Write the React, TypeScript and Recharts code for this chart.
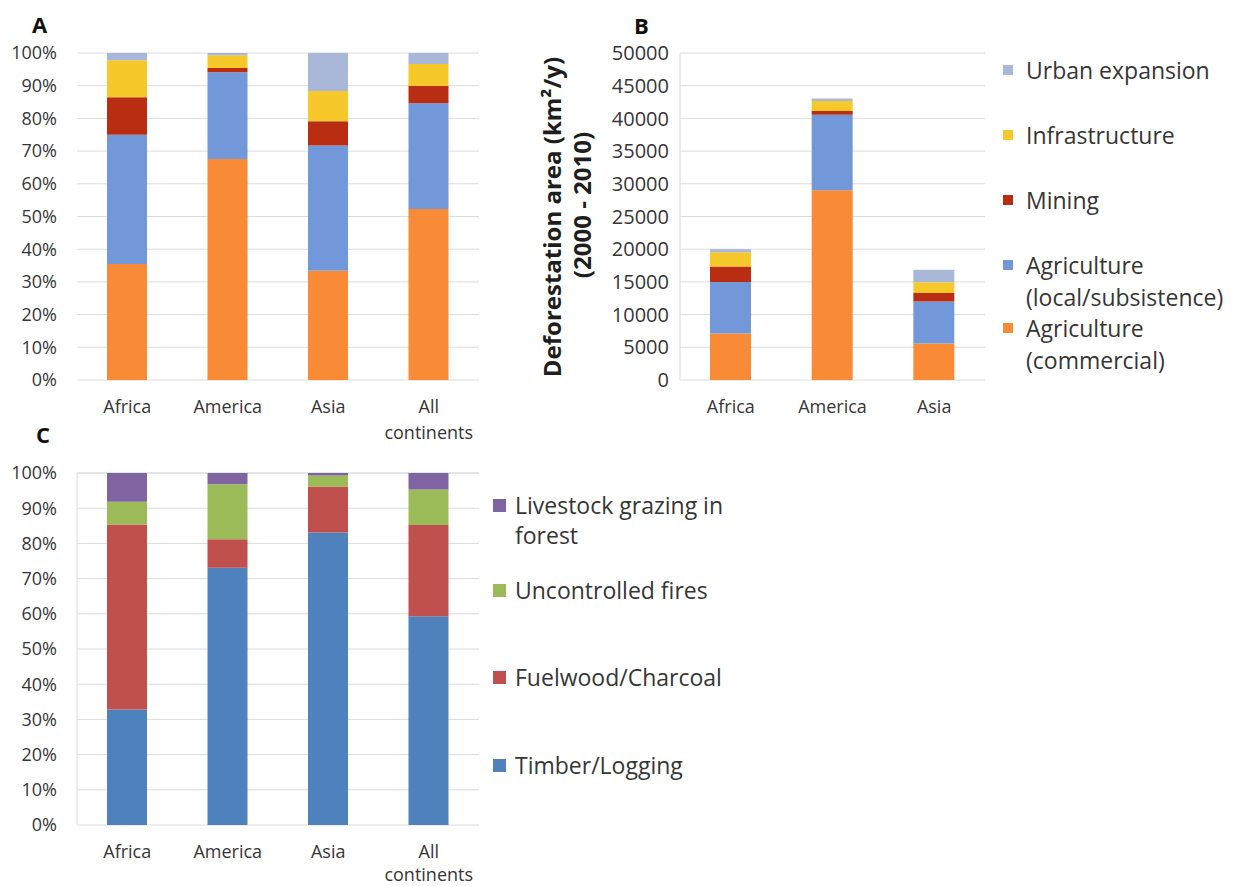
import { BarChart, Bar, XAxis, YAxis, CartesianGrid, Label } from "recharts";

const FONT = "'Open Sans', sans-serif";
const TEXT = "#363636";
const GRID = "#dcdcdc";

// panel A and C categories
const CONTINENTS = ["Africa", "America", "Asia", "All\ncontinents"];
// panel B categories
const REGIONS = ["Africa", "America", "Asia"];

// A: share of deforestation drivers (%)
const A_COMMERCIAL = [35.5, 67.6, 33.4, 52.3];
const A_LOCAL = [39.5, 26.5, 38.3, 32.3];
const A_MINING = [11.5, 1.3, 7.4, 5.3];
const A_INFRA = [11.3, 3.9, 9.3, 6.7];
const A_URBAN = [2.2, 0.7, 11.6, 3.4];

// B: deforestation area (km²/y)
const B_COMMERCIAL = [7100, 29000, 5600];
const B_LOCAL = [7900, 11550, 6400];
const B_MINING = [2350, 600, 1300];
const B_INFRA = [2200, 1500, 1650];
const B_URBAN = [450, 400, 1900];

// C: share of degradation drivers (%)
const C_TIMBER = [32.8, 73.1, 83.1, 59.3];
const C_FUELWOOD = [52.6, 8.1, 13.1, 25.9];
const C_FIRES = [6.4, 15.6, 3.1, 10.1];
const C_LIVESTOCK = [8.2, 3.2, 0.7, 4.7];

const PCT_TICKS = [0, 10, 20, 30, 40, 50, 60, 70, 80, 90, 100];
const AREA_TICKS = [0, 5000, 10000, 15000, 20000, 25000, 30000, 35000, 40000, 45000, 50000];

const DEFOR_SERIES = [
  { key: "commercial", label: "Agriculture\n(commercial)", color: "#f98a36" },
  { key: "local", label: "Agriculture\n(local/subsistence)", color: "#7298da" },
  { key: "mining", label: "Mining", color: "#b92d12" },
  { key: "infra", label: "Infrastructure", color: "#f6c829" },
  { key: "urban", label: "Urban expansion", color: "#a9b8d8" },
];

const DEGRAD_SERIES = [
  { key: "timber", label: "Timber/Logging", color: "#4f81bd" },
  { key: "fuelwood", label: "Fuelwood/Charcoal", color: "#c0504d" },
  { key: "fires", label: "Uncontrolled fires", color: "#9bbb59" },
  { key: "livestock", label: "Livestock grazing in\nforest", color: "#8064a2" },
];

const dataA = CONTINENTS.map((name, i) => ({
  name,
  commercial: A_COMMERCIAL[i],
  local: A_LOCAL[i],
  mining: A_MINING[i],
  infra: A_INFRA[i],
  urban: A_URBAN[i],
}));

const dataB = REGIONS.map((name, i) => ({
  name,
  commercial: B_COMMERCIAL[i],
  local: B_LOCAL[i],
  mining: B_MINING[i],
  infra: B_INFRA[i],
  urban: B_URBAN[i],
}));

const dataC = CONTINENTS.map((name, i) => ({
  name,
  timber: C_TIMBER[i],
  fuelwood: C_FUELWOOD[i],
  fires: C_FIRES[i],
  livestock: C_LIVESTOCK[i],
}));

const categoryTick = (gap: number) => (props: any) => {
  const { x, y, payload } = props;
  const lines = String(payload.value).split("\n");
  return (
    <text x={x} y={y} textAnchor="middle" fill={TEXT} fontSize={18} fontFamily={FONT}>
      {lines.map((l, i) => (
        <tspan key={i} x={x} dy={i === 0 ? 33 : gap}>
          {l}
        </tspan>
      ))}
    </text>
  );
};

function AreaLabel(props: any) {
  const { viewBox } = props;
  const x1 = viewBox.x + 31;
  const y1 = 217;
  const x2 = viewBox.x + 61;
  const y2 = 205;
  const common = {
    textAnchor: "middle" as const,
    dominantBaseline: "central" as const,
    fontSize: 24,
    fontWeight: "bold",
    fill: "#1e1e1e",
    fontFamily: FONT,
  };
  return (
    <g>
      <text x={x1} y={y1} transform={`rotate(-90 ${x1} ${y1})`} {...common}>
        Deforestation area (km²/y)
      </text>
      <text x={x2} y={y2} transform={`rotate(-90 ${x2} ${y2})`} {...common}>
        (2000 - 2010)
      </text>
    </g>
  );
}

function SideLegend({ items, left, rows, box, gap, lineHeight }: any) {
  return (
    <>
      {items.map((s: any, i: number) => (
        <div
          key={s.key}
          style={{
            position: "absolute",
            left,
            top: rows[i] - lineHeight / 2,
            display: "flex",
            alignItems: "flex-start",
            fontSize: 23,
            lineHeight: `${lineHeight}px`,
            color: TEXT,
            whiteSpace: "pre",
          }}
        >
          <span
            style={{
              display: "inline-block",
              width: box,
              height: box,
              background: s.color,
              marginTop: (lineHeight - box) / 2,
              marginRight: gap,
            }}
          />
          <span>{s.label}</span>
        </div>
      ))}
    </>
  );
}

const panelTitle = (text: string, left: number, top: number) => (
  <div
    style={{
      position: "absolute",
      left,
      top,
      fontSize: 22,
      fontWeight: "bold",
      lineHeight: "22px",
      color: "#111",
    }}
  >
    {text}
  </div>
);

export default function App() {
  return (
    <div
      style={{
        position: "absolute",
        left: 0,
        top: 0,
        width: 1239,
        height: 886,
        background: "#fff",
        fontFamily: FONT,
        overflow: "hidden",
      }}
    >
      {panelTitle("A", 32, 13)}
      {panelTitle("B", 634, 14)}
      {panelTitle("C", 36, 423)}

      <div style={{ position: "absolute", left: 0, top: 0 }}>
        <BarChart width={490} height={460} data={dataA} margin={{ top: 53, right: 11, left: 0, bottom: 20 }}>
          <CartesianGrid vertical={false} stroke={GRID} />
          <XAxis
            dataKey="name"
            axisLine={false}
            tickLine={false}
            tickSize={0}
            tickMargin={0}
            height={60}
            interval={0}
            tick={categoryTick(26)}
          />
          <YAxis
            width={77}
            domain={[0, 100]}
            ticks={PCT_TICKS}
            interval={0}
            axisLine={false}
            tickLine={false}
            tickSize={0}
            tickMargin={20}
            tickFormatter={(v) => `${v}%`}
            tick={{ fill: TEXT, fontSize: 18, fontFamily: FONT }}
          />
          {DEFOR_SERIES.map((s) => (
            <Bar key={s.key} dataKey={s.key} stackId="a" fill={s.color} barSize={40} isAnimationActive={false} />
          ))}
        </BarChart>
      </div>

      <div style={{ position: "absolute", left: 520, top: 0 }}>
        <BarChart width={475} height={440} data={dataB} margin={{ top: 53, right: 10, left: 0, bottom: 0 }}>
          <CartesianGrid vertical={false} stroke={GRID} />
          <XAxis
            dataKey="name"
            axisLine={false}
            tickLine={false}
            tickSize={0}
            tickMargin={0}
            height={60}
            interval={0}
            tick={categoryTick(26)}
          />
          <YAxis
            width={160}
            domain={[0, 50000]}
            ticks={AREA_TICKS}
            interval={0}
            axisLine={{ stroke: GRID }}
            tickLine={false}
            tickSize={0}
            tickMargin={11}
            tick={{ fill: TEXT, fontSize: 20, fontFamily: FONT }}
          >
            <Label content={AreaLabel} />
          </YAxis>
          {DEFOR_SERIES.map((s) => (
            <Bar key={s.key} dataKey={s.key} stackId="b" fill={s.color} barSize={41} isAnimationActive={false} />
          ))}
        </BarChart>
      </div>

      <SideLegend
        items={[...DEFOR_SERIES].reverse()}
        left={1003}
        rows={[70, 135, 200, 265, 328]}
        box={10}
        gap={13}
        lineHeight={32}
      />

      <div style={{ position: "absolute", left: 0, top: 420 }}>
        <BarChart width={490} height={466} data={dataC} margin={{ top: 53, right: 11, left: 0, bottom: 0 }}>
          <CartesianGrid vertical={false} stroke={GRID} />
          <XAxis
            dataKey="name"
            axisLine={false}
            tickLine={false}
            tickSize={0}
            tickMargin={0}
            height={61}
            interval={0}
            tick={categoryTick(23)}
          />
          <YAxis
            width={77}
            domain={[0, 100]}
            ticks={PCT_TICKS}
            interval={0}
            axisLine={{ stroke: GRID }}
            tickLine={false}
            tickSize={0}
            tickMargin={20}
            tickFormatter={(v) => `${v}%`}
            tick={{ fill: TEXT, fontSize: 18, fontFamily: FONT }}
          />
          {DEGRAD_SERIES.map((s) => (
            <Bar key={s.key} dataKey={s.key} stackId="c" fill={s.color} barSize={40} isAnimationActive={false} />
          ))}
        </BarChart>
      </div>

      <SideLegend
        items={[...DEGRAD_SERIES].reverse()}
        left={493}
        rows={[505, 590, 677, 765]}
        box={13}
        gap={9}
        lineHeight={30}
      />
    </div>
  );
}
